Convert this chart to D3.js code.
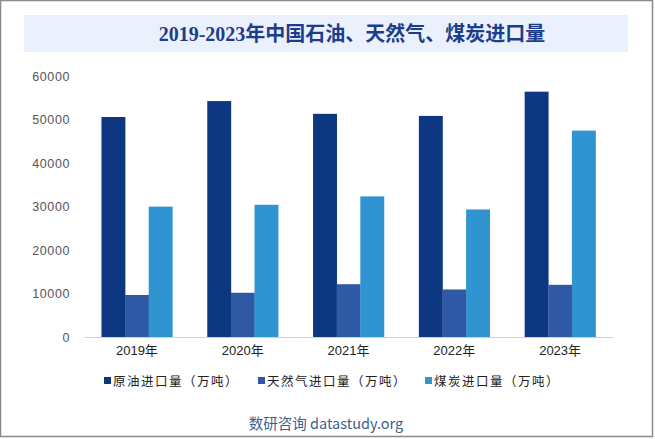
<!DOCTYPE html>
<html><head><meta charset="utf-8">
<script src="https://cdn.jsdelivr.net/npm/d3@7"></script>
<style>html,body{margin:0;padding:0;background:#fff;}svg{display:block;}</style>
</head><body>
<script>
const categories = ["2019年","2020年","2021年","2022年","2023年"];
const seriesNames = ["原油进口量（万吨）","天然气进口量（万吨）","煤炭进口量（万吨）"];
const oil  = [50572, 54239, 51298, 50828, 56399];
const gas  = [9656, 10166, 12136, 10925, 11997];
const coal = [29977, 30399, 32322, 29320, 47442];
const yTicks = [0,10000,20000,30000,40000,50000,60000];
const colors = ["#0e3781","#2f58a5","#3094d1"];

const W=655,H=439;
const svg=d3.select("body").append("svg").attr("width",W).attr("height",H);
svg.append("rect").attr("x",0.5).attr("y",0.5).attr("width",652).attr("height",436)
  .attr("fill","#fff").attr("stroke","#8a8a8a").attr("stroke-width",1.5);
svg.append("rect").attr("x",24).attr("y",15).attr("width",604).attr("height",37).attr("fill","#eaf1fc");
svg.append("text").attr("x",352).attr("y",41).attr("text-anchor","middle")
  .attr("font-family","'Liberation Serif','Noto Sans CJK SC',serif").attr("font-size",20).attr("font-weight","bold")
  .attr("fill","#1c3d8c").text("2019-2023年中国石油、天然气、煤炭进口量");

const x=d3.scaleBand().domain(categories).range([84,613]).paddingInner(0.33).paddingOuter(0.165);
const y=d3.scaleLinear().domain([0,60000]).range([337,76]);
const xs=d3.scaleBand().domain([0,1,2]).range([0,x.bandwidth()]);
const data=[oil,gas,coal];

const g=svg.append("g");
data.forEach((vals,si)=>{
  g.selectAll(null).data(vals).enter().append("rect")
   .attr("x",(d,i)=>x(categories[i])+xs(si)).attr("width",xs.bandwidth()+0.3)
   .attr("y",d=>y(d)).attr("height",d=>y(0)-y(d)).attr("fill",colors[si]);
});

const yAxis=svg.append("g").attr("transform","translate(84,0)")
  .call(d3.axisLeft(y).tickValues(yTicks).tickSize(0).tickPadding(14).tickFormat(d3.format("d")));
yAxis.select(".domain").remove();
yAxis.selectAll("text").attr("font-family","'Liberation Sans',Arial,sans-serif").attr("font-size",12.5)
  .attr("fill","#555").attr("letter-spacing","0.6px");

const xAxis=svg.append("g").attr("transform","translate(0,337)")
  .call(d3.axisBottom(x).tickSize(0).tickPadding(9));
xAxis.select(".domain").attr("stroke","#d0d0d0").attr("stroke-width",1);
xAxis.selectAll("text").attr("font-family","'Liberation Sans','Noto Sans CJK SC',sans-serif").attr("font-size",13)
  .attr("fill","#222");

const legX=[104,258,425];
seriesNames.forEach((n,i)=>{
  svg.append("rect").attr("x",legX[i]).attr("y",377).attr("width",7).attr("height",7).attr("fill",colors[i]);
  svg.append("text").attr("x",legX[i]+9).attr("y",386).attr("font-family","'Noto Sans CJK SC',sans-serif")
    .attr("font-size",12.5).attr("fill","#222").attr("letter-spacing","1.5px").text(n);
});

svg.append("text").attr("x",326).attr("y",429).attr("text-anchor","middle")
  .attr("font-family","'Noto Sans CJK SC','Liberation Sans',sans-serif").attr("font-size",14.5)
  .attr("fill","#3d5f8f").text("数研咨询 datastudy.org");
</script>
</body></html>
